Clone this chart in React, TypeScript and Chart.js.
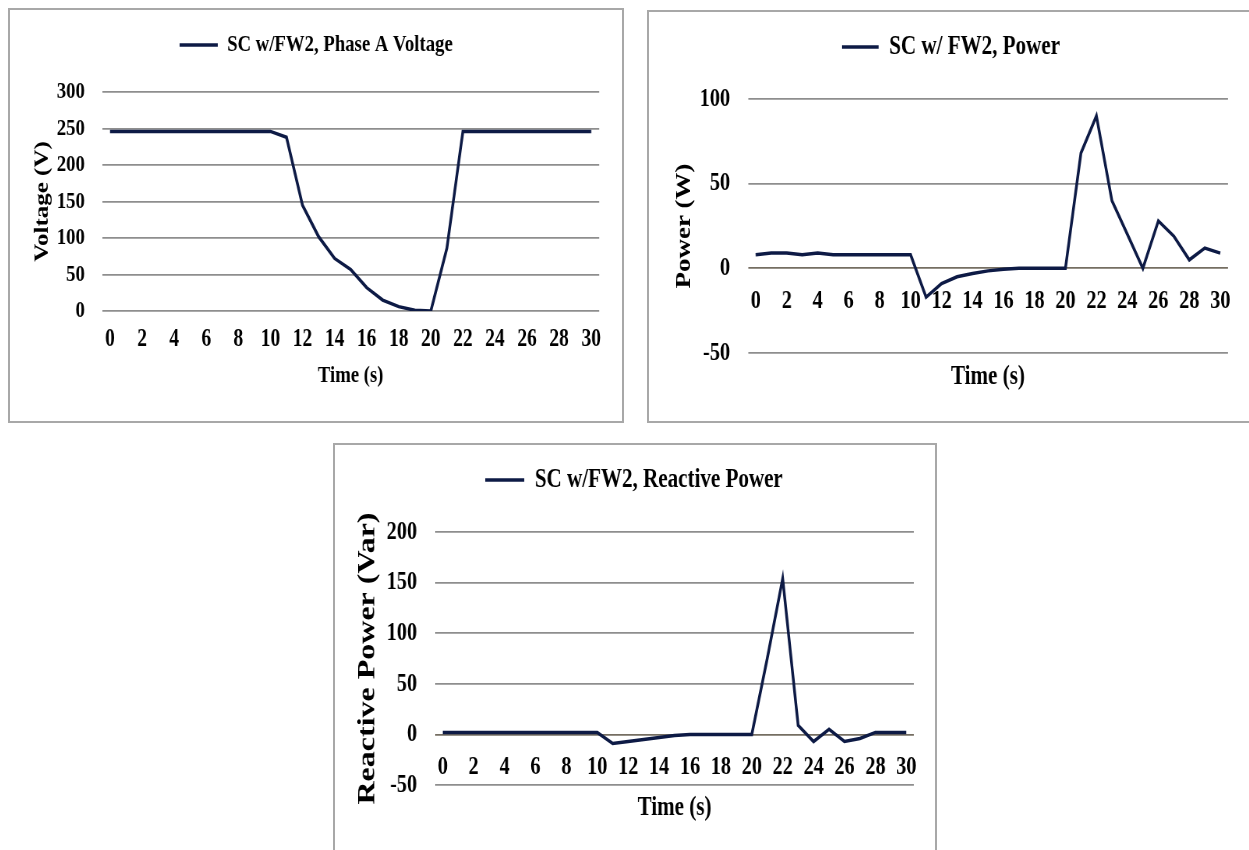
import React, { useEffect, useRef } from 'react';
import { Chart, registerables } from 'chart.js';

Chart.register(...registerables);

// ---------- data ----------
const timeLabels = [0, 1, 2, 3, 4, 5, 6, 7, 8, 9, 10, 11, 12, 13, 14, 15, 16, 17, 18, 19, 20, 21, 22, 23, 24, 25, 26, 27, 28, 29, 30];

const voltageValues = [246, 246, 246, 246, 246, 246, 246, 246, 246, 246, 246, 238, 145, 102, 72, 57, 32, 15, 6, 1, 0, 86, 246, 246, 246, 246, 246, 246, 246, 246, 246];
const powerValues = [8, 9, 9, 8, 9, 8, 8, 8, 8, 8, 8, -17, -9, -5, -3, -1.5, -0.5, 0, 0, 0, 0, 68, 90, 40, 20, 0, 28, 19, 5, 12, 9];
const reactiveValues = [2, 2, 2, 2, 2, 2, 2, 2, 2, 2, 2, -9, -7, -5, -3, -1, 0, 0, 0, 0, 0, 75, 154, 9, -7, 5, -7, -4, 2, 2, 2];

const voltageTicks = [0, 50, 100, 150, 200, 250, 300];
const powerTicks = [-50, 0, 50, 100];
const reactiveTicks = [-50, 0, 50, 100, 150, 200];

const voltageLegend = 'SC w/FW2, Phase A Voltage';
const powerLegend = 'SC w/ FW2, Power';
const reactiveLegend = 'SC w/FW2, Reactive Power';

const xTitle = 'Time (s)';
const voltageYTitle = 'Voltage (V)';
const powerYTitle = 'Power (W)';
const reactiveYTitle = 'Reactive Power (Var)';

// ---------- styling ----------
const SX = 0.78; // horizontal condensation of the reference figure
const FONT = "'Liberation Serif', 'Times New Roman', serif";
const LINE = '#0d1a45';
const GRID = '#8e8e8e';
const ZERO = '#756e62';
const BOX_BORDER = '#a8a8a8';

type Spec = {
  box: { left: number; top: number; width: number; height: number };
  canvasW: number;
  canvasH: number;
  legend: string;
  values: number[];
  yTicks: number[];
  yTitle: string;
  pad: { left: number; right: number; top: number; bottom: number };
  legendSize: number;
  legendPad: number;
  sampleW: number;
  gap: number;
  yWidth: number;
  yTickSize: number;
  yTickPad: number;
  yTitleSize: number;
  yTitlePad: number;
  xTickSize: number;
  xTickPad: number;
  xTitleSize: number;
  xHeight: number;
};

const specs: Spec[] = [
  {
    box: { left: 8, top: 8, width: 616, height: 415 },
    canvasW: 790,
    canvasH: 415,
    legend: voltageLegend,
    values: voltageValues,
    yTicks: voltageTicks,
    yTitle: voltageYTitle,
    pad: { left: 32, right: 32, top: 10, bottom: 112 },
    legendSize: 24,
    legendPad: 15,
    sampleW: 49,
    gap: 15,
    yWidth: 88.5,
    yTickSize: 24,
    yTickPad: 22,
    yTitleSize: 25,
    yTitlePad: 0,
    xTickSize: 25,
    xTickPad: 13.5,
    xTitleSize: 24,
    xHeight: 79.4,
  },
  {
    box: { left: 647, top: 10, width: 620, height: 413 },
    canvasW: 782,
    canvasH: 413,
    legend: powerLegend,
    values: powerValues,
    yTicks: powerTicks,
    yTitle: powerYTitle,
    pad: { left: 34.4, right: 37.1, top: 10, bottom: 70 },
    legendSize: 27,
    legendPad: 13.5,
    sampleW: 47,
    gap: 18.5,
    yWidth: 95.1,
    yTickSize: 26,
    yTickPad: 23,
    yTitleSize: 27,
    yTitlePad: 0,
    xTickSize: 26,
    xTickPad: 17.4,
    xTitleSize: 27,
    xHeight: 125.2,
  },
  {
    box: { left: 333, top: 443, width: 604, height: 420 },
    canvasW: 774,
    canvasH: 413,
    legend: reactiveLegend,
    values: reactiveValues,
    yTicks: reactiveTicks,
    yTitle: reactiveYTitle,
    pad: { left: 26.9, right: 29.1, top: 10, bottom: 71 },
    legendSize: 27,
    legendPad: 13.5,
    sampleW: 50,
    gap: 18.5,
    yWidth: 103.9,
    yTickSize: 26,
    yTickPad: 23,
    yTitleSize: 32,
    yTitlePad: 2,
    xTickSize: 26,
    xTickPad: 17.4,
    xTitleSize: 27,
    xHeight: 90.2,
  },
];

function makeConfig(spec: Spec): any {
  const bold = (size: number, lineHeight?: number) =>
    lineHeight ? { family: FONT, size, weight: 'bold', lineHeight } : { family: FONT, size, weight: 'bold' };
  return {
    type: 'line',
    data: {
      labels: timeLabels.map((t) => String(t)),
      datasets: [
        {
          label: spec.legend,
          data: spec.values,
          borderColor: LINE,
          backgroundColor: LINE,
          borderWidth: 3.5,
          pointRadius: 0,
          tension: 0,
          fill: false,
        },
      ],
    },
    options: {
      responsive: false,
      animation: false,
      devicePixelRatio: 1,
      events: [],
      layout: { padding: spec.pad },
      plugins: {
        legend: {
          display: true,
          position: 'top',
          labels: {
            font: bold(spec.legendSize),
            color: '#000',
            padding: spec.legendPad,
            usePointStyle: true,
            pointStyle: 'line',
            pointStyleWidth: spec.sampleW,
          },
        },
        subtitle: {
          display: true,
          text: '',
          position: 'top',
          weight: 100,
          font: { size: 10, lineHeight: 1 },
          padding: { top: spec.gap, bottom: 0 },
        },
        title: { display: false },
        tooltip: { enabled: false },
      },
      scales: {
        x: {
          type: 'category',
          position: { y: 0 },
          offset: true,
          grid: { display: false, drawTicks: false },
          border: { display: false },
          ticks: {
            autoSkip: false,
            maxRotation: 0,
            minRotation: 0,
            padding: spec.xTickPad,
            color: '#000',
            font: bold(spec.xTickSize),
            callback: (_v: any, i: number) => (timeLabels[i] % 2 === 0 ? String(timeLabels[i]) : ''),
          },
          title: {
            display: true,
            text: xTitle,
            color: '#000',
            font: bold(spec.xTitleSize),
            padding: { top: 0, bottom: 0 },
          },
          afterFit: (s: any) => {
            s.height = spec.xHeight;
          },
        },
        y: {
          type: 'linear',
          position: 'left',
          min: spec.yTicks[0],
          max: spec.yTicks[spec.yTicks.length - 1],
          grid: {
            drawTicks: false,
            lineWidth: 1.7,
            color: (ctx: any) => (ctx.tick && ctx.tick.value === 0 && spec.yTicks[0] < 0 ? ZERO : GRID),
          },
          border: { display: false },
          ticks: {
            stepSize: 50,
            padding: spec.yTickPad,
            color: '#000',
            font: bold(spec.yTickSize),
          },
          title: {
            display: true,
            text: spec.yTitle,
            color: '#000',
            font: bold(spec.yTitleSize, 1),
            padding: { top: spec.yTitlePad, bottom: 0 },
          },
          afterFit: (s: any) => {
            s.width = spec.yWidth;
          },
        },
      },
    },
  };
}

function LineChartPanel({ spec }: { spec: Spec }) {
  const ref = useRef<HTMLCanvasElement | null>(null);
  useEffect(() => {
    if (!ref.current) return;
    const chart = new Chart(ref.current, makeConfig(spec));
    return () => chart.destroy();
  }, [spec]);
  return (
    <>
      <div
        style={{
          position: 'absolute',
          left: spec.box.left,
          top: spec.box.top,
          width: spec.box.width,
          height: spec.box.height,
          border: `2px solid ${BOX_BORDER}`,
          boxSizing: 'border-box',
          background: '#fff',
        }}
      />
      <div
        style={{
          position: 'absolute',
          left: spec.box.left,
          top: spec.box.top,
          width: spec.canvasW,
          height: spec.canvasH,
          transform: `scaleX(${SX})`,
          transformOrigin: '0 0',
        }}
      >
        <canvas ref={ref} width={spec.canvasW} height={spec.canvasH} style={{ display: 'block' }} />
      </div>
    </>
  );
}

export default function App() {
  return (
    <div style={{ position: 'absolute', left: 0, top: 0, width: 1249, height: 850, overflow: 'hidden', background: '#fff' }}>
      {specs.map((s, i) => (
        <LineChartPanel key={i} spec={s} />
      ))}
    </div>
  );
}
